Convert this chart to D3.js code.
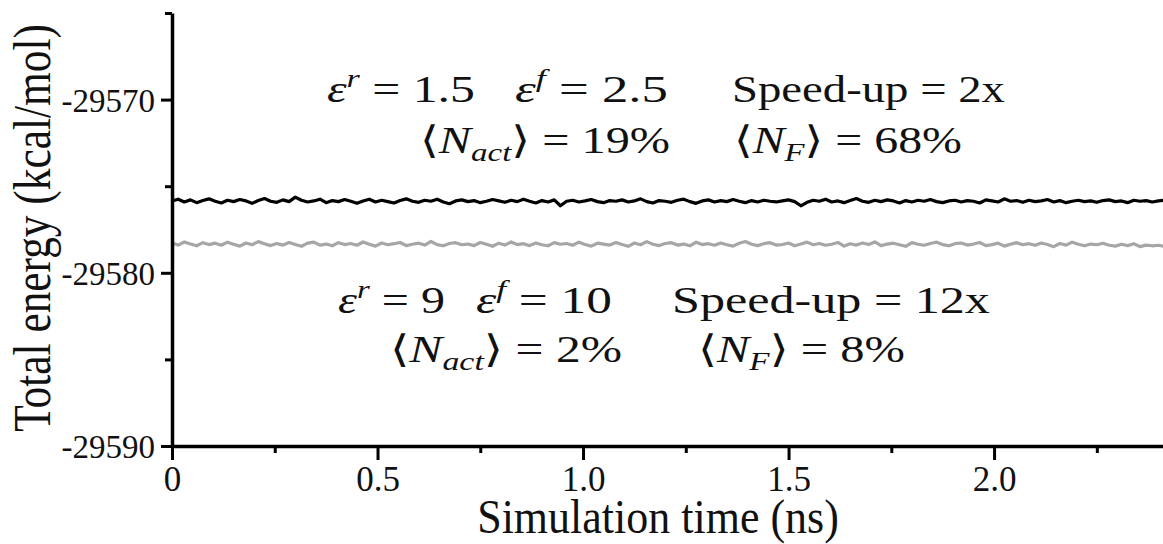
<!DOCTYPE html>
<html>
<head>
<meta charset="utf-8">
<script src="https://cdn.jsdelivr.net/npm/d3@7"></script>
<style>
  body { margin: 0; background: #fff; }
  text { font-family: "Liberation Serif", "Times New Roman", serif; fill: #111; }
  .bracket { font-family: "DejaVu Serif", serif; }
</style>
</head>
<body>
<div id="chart"></div>
<script>
var width = 1163,
    height = 544;

// time between two samples (ns)
var timeStep = 0.015;

// eps_r = 1.5, eps_f = 2.5 run (black)
var blackEnergy = [
  -29575.85, -29575.75, -29575.91, -29575.79, -29575.95, -29575.83, -29575.73, -29575.87, -29575.97, -29575.81,
  -29575.89, -29575.77, -29575.85, -29575.99, -29575.83, -29575.71, -29575.87, -29575.93, -29575.79, -29575.89,
  -29575.63, -29575.81, -29575.91, -29575.85, -29575.75, -29575.95, -29575.83, -29575.89, -29575.77, -29575.87,
  -29575.99, -29575.85, -29575.75, -29575.91, -29575.81, -29575.89, -29575.97, -29575.83, -29575.73, -29575.87,
  -29575.93, -29575.81, -29575.87, -29575.75, -29575.91, -29576.01, -29575.85, -29575.79, -29575.89, -29575.83,
  -29575.95, -29575.87, -29575.77, -29575.85, -29575.93, -29575.81, -29575.89, -29575.75, -29575.87, -29575.97,
  -29575.83, -29575.91, -29575.79, -29576.13, -29575.87, -29575.81, -29575.91, -29575.85, -29575.77, -29575.89,
  -29575.95, -29575.83, -29575.87, -29575.79, -29575.91, -29575.85, -29575.73, -29575.89, -29575.97, -29575.83,
  -29575.87, -29575.93, -29575.81, -29575.75, -29575.89, -29575.99, -29575.85, -29575.79, -29575.91, -29575.83,
  -29575.89, -29575.77, -29575.87, -29575.95, -29575.83, -29575.91, -29575.81, -29575.87, -29575.91, -29575.85,
  -29575.79, -29575.89, -29576.13, -29575.93, -29575.81, -29575.87, -29575.75, -29575.91, -29575.85, -29575.95,
  -29575.83, -29575.71, -29575.87, -29575.93, -29575.81, -29575.89, -29575.79, -29575.85, -29575.97, -29575.83,
  -29575.91, -29575.81, -29575.87, -29575.77, -29575.89, -29575.95, -29575.85, -29575.81, -29575.91, -29575.83,
  -29575.87, -29575.97, -29575.79, -29575.85, -29575.91, -29575.73, -29575.87, -29575.83, -29575.93, -29575.81,
  -29575.89, -29575.85, -29575.77, -29575.91, -29575.83, -29575.95, -29575.87, -29575.81, -29575.89, -29575.85,
  -29575.93, -29575.83, -29575.79, -29575.89, -29575.85, -29575.95, -29575.81, -29575.87, -29575.83, -29575.91,
  -29575.85, -29575.81
];

// eps_r = 9, eps_f = 10 run (grey)
var greyEnergy = [
  -29578.28, -29578.40, -29578.22, -29578.34, -29578.44, -29578.26, -29578.37, -29578.29, -29578.41, -29578.23,
  -29578.35, -29578.46, -29578.28, -29578.38, -29578.20, -29578.32, -29578.43, -29578.31, -29578.40, -29578.25,
  -29578.37, -29578.47, -29578.29, -29578.23, -29578.40, -29578.34, -29578.44, -29578.26, -29578.37, -29578.31,
  -29578.41, -29578.22, -29578.35, -29578.46, -29578.28, -29578.38, -29578.32, -29578.25, -29578.43, -29578.35,
  -29578.29, -29578.40, -29578.19, -29578.37, -29578.44, -29578.31, -29578.26, -29578.38, -29578.34, -29578.43,
  -29578.25, -29578.35, -29578.47, -29578.29, -29578.40, -29578.22, -29578.37, -29578.32, -29578.43, -29578.28,
  -29578.38, -29578.44, -29578.26, -29578.35, -29578.31, -29578.41, -29578.23, -29578.37, -29578.46, -29578.29,
  -29578.34, -29578.40, -29578.25, -29578.37, -29578.47, -29578.28, -29578.38, -29578.20, -29578.35, -29578.43,
  -29578.31, -29578.26, -29578.40, -29578.34, -29578.44, -29578.23, -29578.37, -29578.32, -29578.41, -29578.28,
  -29578.38, -29578.46, -29578.29, -29578.19, -29578.35, -29578.43, -29578.32, -29578.26, -29578.40, -29578.37,
  -29578.28, -29578.44, -29578.34, -29578.23, -29578.38, -29578.31, -29578.41, -29578.35, -29578.25, -29578.46,
  -29578.32, -29578.40, -29578.28, -29578.37, -29578.22, -29578.43, -29578.34, -29578.29, -29578.38, -29578.47,
  -29578.26, -29578.35, -29578.41, -29578.31, -29578.23, -29578.37, -29578.44, -29578.32, -29578.28, -29578.40,
  -29578.34, -29578.25, -29578.43, -29578.37, -29578.29, -29578.46, -29578.35, -29578.26, -29578.38, -29578.32,
  -29578.41, -29578.28, -29578.37, -29578.49, -29578.31, -29578.40, -29578.23, -29578.35, -29578.44, -29578.34,
  -29578.38, -29578.29, -29578.41, -29578.46, -29578.35, -29578.43, -29578.32, -29578.49, -29578.40, -29578.44,
  -29578.41, -29578.47
];

var xMajorTicks = [0, 0.5, 1.0, 1.5, 2.0];
var xMinorTicks = [0.25, 0.75, 1.25, 1.75, 2.25];
var xTickLabels = ["0", "0.5", "1.0", "1.5", "2.0"];

var yMajorTicks = [-29590, -29580, -29570];
var yMinorTicks = [-29585, -29575, -29565];
var yTickLabels = ["-29590", "-29580", "-29570"];

var xTitle = "Simulation time (ns)";
var yTitle = "Total energy (kcal/mol)";

// annotation pieces, each part: text + style flags
var annotations = [
  { x: 327, y: 102, len: 148, parts: [{t: "ε", it: 1}, {t: "r", sup: 1, it: 1}, {t: " = 1.5"}] },
  { x: 515, y: 102, len: 153, parts: [{t: "ε", it: 1}, {t: "f", sup: 1, it: 1}, {t: " = 2.5"}] },
  { x: 732, y: 102, len: 273, parts: [{t: "Speed-up = 2x"}] },
  { x: 420, y: 153, len: 250, parts: [{t: "⟨", br: 1}, {t: "N", it: 1}, {t: "act", sub: 1, it: 1}, {t: "⟩", br: 1}, {t: " = 19%"}] },
  { x: 734, y: 153, len: 228, parts: [{t: "⟨", br: 1}, {t: "N", it: 1}, {t: "F", sub: 1, it: 1}, {t: "⟩", br: 1}, {t: " = 68%"}] },
  { x: 338, y: 313, len: 107, parts: [{t: "ε", it: 1}, {t: "r", sup: 1, it: 1}, {t: " = 9"}] },
  { x: 476, y: 313, len: 136, parts: [{t: "ε", it: 1}, {t: "f", sup: 1, it: 1}, {t: " = 10"}] },
  { x: 672, y: 313, len: 318, parts: [{t: "Speed-up = 12x"}] },
  { x: 390, y: 362, len: 232, parts: [{t: "⟨", br: 1}, {t: "N", it: 1}, {t: "act", sub: 1, it: 1}, {t: "⟩", br: 1}, {t: " = 2%"}] },
  { x: 698, y: 362, len: 207, parts: [{t: "⟨", br: 1}, {t: "N", it: 1}, {t: "F", sub: 1, it: 1}, {t: "⟩", br: 1}, {t: " = 8%"}] }
];

var x = d3.scaleLinear()
    .domain([0, 2.411])
    .range([172, 1163]);

var y = d3.scaleLinear()
    .domain([-29590, -29565])
    .range([446, 13]);

var svg = d3.select("#chart").append("svg")
    .attr("width", width)
    .attr("height", height);

/* Series */
var line = d3.line()
    .x(function(d, i) { return x(i * timeStep); })
    .y(function(d) { return y(d); });

svg.append("path")
    .datum(greyEnergy)
    .attr("d", line)
    .attr("fill", "none")
    .attr("stroke", "#a6a6a6")
    .attr("stroke-width", 3.2)
    .attr("stroke-linejoin", "round");

svg.append("path")
    .datum(blackEnergy)
    .attr("d", line)
    .attr("fill", "none")
    .attr("stroke", "#000")
    .attr("stroke-width", 3.2)
    .attr("stroke-linejoin", "round");

/* Axes */
function styleAxis(g) {
  g.selectAll(".domain").attr("stroke", "#000").attr("stroke-width", 3.5);
  g.selectAll(".tick line").attr("stroke", "#000").attr("stroke-width", 3);
}

var yAxis = svg.append("g")
    .attr("transform", "translate(172,0)")
    .call(d3.axisLeft(y).tickValues(yMajorTicks).tickSize(11).tickSizeOuter(0).tickPadding(6)
      .tickFormat(function(d, i) { return yTickLabels[i]; }))
    .call(styleAxis);

yAxis.selectAll(".tick text")
    .attr("dy", "0.36em")
    .style("font-size", "33px")
    .style("font-family", "'Liberation Serif', serif")
    .attr("fill", "#111");

svg.append("g")
    .attr("transform", "translate(172,0)")
    .call(d3.axisLeft(y).tickValues(yMinorTicks).tickSize(7).tickSizeOuter(0).tickFormat(""))
    .call(styleAxis)
    .select(".domain").remove();

var xAxis = svg.append("g")
    .attr("transform", "translate(0,446)")
    .call(d3.axisBottom(x).tickValues(xMajorTicks).tickSize(14).tickSizeOuter(0).tickPadding(6)
      .tickFormat(function(d, i) { return xTickLabels[i]; }))
    .call(styleAxis);

xAxis.selectAll(".tick text")
    .style("font-size", "35px")
    .style("font-family", "'Liberation Serif', serif")
    .attr("fill", "#111");

svg.append("g")
    .attr("transform", "translate(0,446)")
    .call(d3.axisBottom(x).tickValues(xMinorTicks).tickSize(7).tickSizeOuter(0).tickFormat(""))
    .call(styleAxis)
    .select(".domain").remove();

/* Titles: glyphs stretched in height as in the original */
svg.append("text")
    .attr("transform", "translate(658,533) scale(1,1.12)")
    .attr("text-anchor", "middle")
    .style("font-size", "44px")
    .text(xTitle);

svg.append("text")
    .attr("transform", "translate(50,228) rotate(-90) scale(0.985,1.2)")
    .attr("text-anchor", "middle")
    .style("font-size", "44px")
    .text(yTitle);

/* Annotations: widened to the measured length with a scale */
annotations.forEach(function(a) {
  var g = svg.append("g");
  var t = g.append("text")
      .style("font-size", "38px");
  var shift = 0;
  a.parts.forEach(function(p) {
    var target = p.sup ? -15 : (p.sub ? 8 : 0);
    t.append("tspan")
        .attr("class", p.br ? "bracket" : null)
        .attr("dy", target - shift)
        .style("font-style", p.it ? "italic" : "normal")
        .style("font-size", (p.sup || p.sub) ? "26px" : "38px")
        .text(p.t);
    shift = target;
  });
  var natural = t.node().getComputedTextLength();
  g.attr("transform", "translate(" + a.x + "," + a.y + ") scale(" + (a.len / natural) + ",1)");
});
</script>
</body>
</html>
